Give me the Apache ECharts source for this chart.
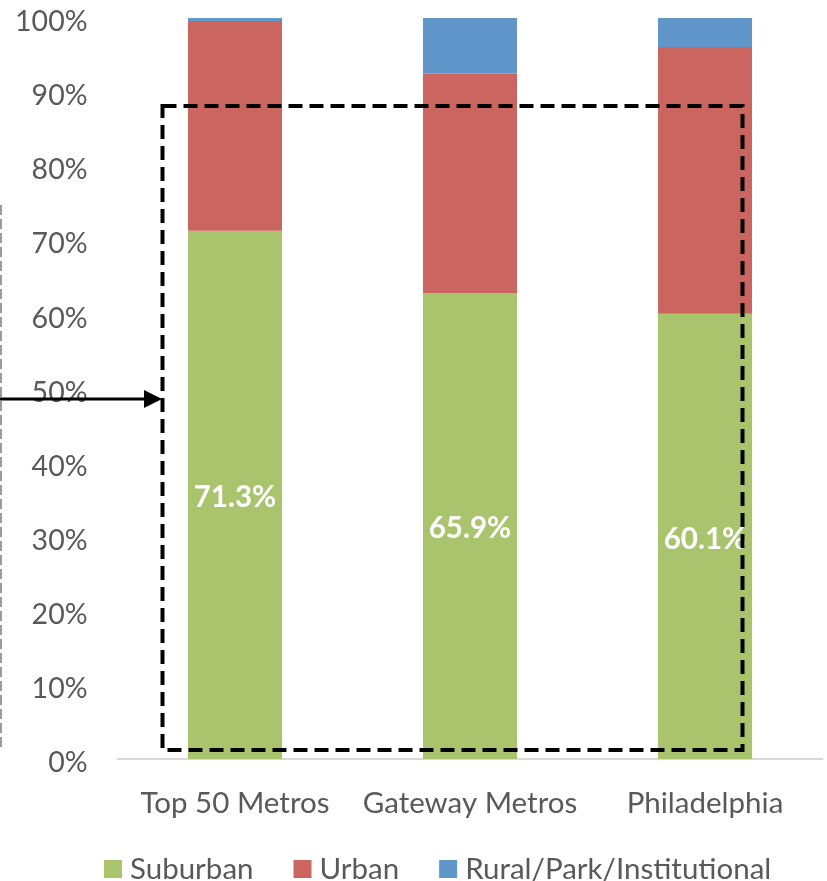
<!DOCTYPE html>
<html>
<head>
<meta charset="utf-8">
<script src="https://cdn.jsdelivr.net/npm/echarts@6/dist/echarts.min.js"></script>
<style>
html,body{margin:0;padding:0;background:#fff;}
#chart{width:827px;height:881px;}
</style>
</head>
<body>
<div id="chart"></div>
<script>
// ---- data ----
const categories = ['Top 50 Metros', 'Gateway Metros', 'Philadelphia'];
const suburban = [71.3, 62.9, 60.1];
const urban = [28.3, 29.6, 36.0];
const rural = [0.4, 7.5, 3.9];
const suburbanLabels = ['71.3%', '65.9%', '60.1%'];
const yTicks = [0, 10, 20, 30, 40, 50, 60, 70, 80, 90, 100];

const FONT = 'Lato';
const chart = echarts.init(document.getElementById('chart'), null, {renderer: 'canvas'});

const option = {
  animation: false,
  backgroundColor: '#ffffff',
  grid: {left: 117.5, right: 4.5, top: 18, bottom: 122},
  legend: {
    left: 99, top: 849,
    itemWidth: 18, itemHeight: 18, itemGap: 40,
    icon: 'rect',
    textStyle: {fontFamily: FONT, fontSize: 29.5, color: '#595959', padding: [0, 0, 0, 3]},
    data: ['Suburban', 'Urban', 'Rural/Park/Institutional']
  },
  xAxis: {
    type: 'category',
    data: categories,
    axisLine: {lineStyle: {color: '#d9d9d9', width: 2}},
    axisTick: {show: false},
    axisLabel: {fontFamily: FONT, fontSize: 29.5, color: '#595959', margin: 29, interval: 0}
  },
  yAxis: {
    type: 'value',
    min: yTicks[0], max: yTicks[yTicks.length - 1], interval: 10,
    axisLine: {show: false},
    axisTick: {show: false},
    splitLine: {show: false},
    axisLabel: {fontFamily: FONT, fontSize: 28.5, color: '#595959', margin: 30,
      verticalAlign: 'top', lineHeight: 8,
      formatter: v => v + '%'}
  },
  series: [
    {name: 'Suburban', type: 'bar', stack: 's', data: suburban, barWidth: 94,
      itemStyle: {color: '#A9C46D'},
      label: {show: true, position: 'inside', color: '#ffffff', fontWeight: 'bold',
        fontFamily: FONT, fontSize: 29.5, offset: [0, 3],
        formatter: p => suburbanLabels[p.dataIndex]}},
    {name: 'Urban', type: 'bar', stack: 's', data: urban, barWidth: 94,
      itemStyle: {color: '#CB6560'}},
    {name: 'Rural/Park/Institutional', type: 'bar', stack: 's', data: rural, barWidth: 94,
      itemStyle: {color: '#6196CA'}}
  ],
  graphic: [
    {type: 'rect', z: 100, shape: {x: 162.5, y: 106, width: 580, height: 644},
      style: {fill: 'none', stroke: '#000', lineWidth: 4, lineDash: [14, 7]}},
    {type: 'line', z: 100, shape: {x1: 0, y1: 399, x2: 148, y2: 399},
      style: {stroke: '#000', lineWidth: 3}},
    {type: 'polygon', z: 100, shape: {points: [[144, 390], [162, 399], [144, 408]]},
      style: {fill: '#000'}},
    {type: 'line', z: 100, shape: {x1: 1, y1: 205, x2: 1, y2: 750},
      style: {stroke: '#9a9a9a', lineWidth: 2, lineDash: [10, 4]}}
  ]
};
chart.setOption(option);
</script>
</body>
</html>
